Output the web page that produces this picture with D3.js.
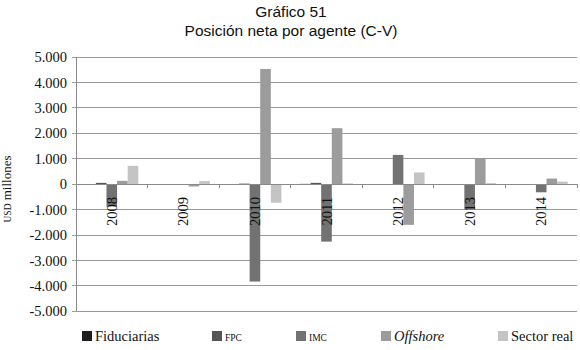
<!DOCTYPE html>
<html><head><meta charset="utf-8">
<script src="https://cdn.jsdelivr.net/npm/d3@7"></script>
<style>body{margin:0;background:#fff}svg{display:block}</style>
</head><body>
<svg id="c" width="580" height="350"></svg>
<script>
const years = ["2008","2009","2010","2011","2012","2013","2014"];
const seriesNames = ["Fiduciarias","FPC","IMC","Offshore","Sector real"];
const fiduciarias = [5, 0, 5, 10, 0, 0, 5];
const fpc = [50, 0, 20, 50, 0, 0, -20];
const imc = [-880, 0, -3830, -2260, 1150, -1000, -320];
const offshore = [130, -90, 4530, 2200, -1600, 1000, 220];
const sectorReal = [720, 120, -730, 30, 460, 40, 100];
const yTicks = [5000,4000,3000,2000,1000,0,-1000,-2000,-3000,-4000,-5000];
const colors = ["#1e1e1e","#555555","#727272","#9c9c9c","#c4c4c4"];

const values = [fiduciarias, fpc, imc, offshore, sectorReal];
const svg = d3.select("#c");
const L = 76, R = 577, T = 57, B = 311.3;
const x0 = d3.scaleBand().domain(years).range([L, R]).padding(0);
const bw = x0.bandwidth();
const x1 = d3.scaleBand().domain(seriesNames).range([bw*0.13, bw*0.87]).padding(0);
const y = d3.scaleLinear().domain([-5000, 5000]).range([B, T]);
const fmt = v => d3.format(",")(v).replace(/,/g, ".").replace("−","-");

// gridlines
svg.append("g").selectAll("line").data(yTicks).join("line")
  .attr("x1", L - 4).attr("x2", R).attr("y1", d => y(d)).attr("y2", d => y(d))
  .attr("stroke", "#9a9a9a").attr("stroke-width", 1).attr("shape-rendering","crispEdges");
// y axis line
svg.append("line").attr("x1", L).attr("x2", L).attr("y1", T).attr("y2", B)
  .attr("stroke", "#8a8a8a").attr("shape-rendering","crispEdges");
// y tick labels
svg.append("g").selectAll("text").data(yTicks).join("text")
  .attr("x", L - 9).attr("y", d => y(d)).attr("dy", "0.35em")
  .attr("text-anchor", "end").attr("font-family", "'Liberation Serif', serif")
  .attr("font-size", 14.5).attr("fill", "#111").text(d => fmt(d));

// bars
const g = svg.append("g");
seriesNames.forEach((s, si) => {
  g.selectAll(null).data(years).join("rect")
    .attr("x", d => x0(d) + x1(s))
    .attr("width", x1.bandwidth())
    .attr("y", (d, i) => y(Math.max(0, values[si][i])))
    .attr("height", (d, i) => Math.abs(y(values[si][i]) - y(0)))
    .attr("fill", colors[si]);
});

// zero line and category ticks
svg.append("line").attr("x1", L).attr("x2", R).attr("y1", y(0)).attr("y2", y(0))
  .attr("stroke", "#8a8a8a").attr("shape-rendering","crispEdges");
svg.append("g").selectAll("line").data(years).join("line")
  .attr("x1", d => x0(d) + bw).attr("x2", d => x0(d) + bw)
  .attr("y1", y(0)).attr("y2", y(0) + 4)
  .attr("stroke", "#8a8a8a").attr("shape-rendering","crispEdges");

// year labels
svg.append("g").selectAll("text").data(years).join("text")
  .attr("transform", d => `translate(${x0(d) + bw/2},197) rotate(-90)`)
  .attr("dy", "0.35em").attr("text-anchor", "end")
  .attr("font-family", "'Liberation Serif', serif").attr("font-size", 14.5)
  .attr("fill", "#111").text(d => d);

// title
const title = svg.append("text").attr("text-anchor", "middle")
  .attr("font-family", "'Liberation Sans', Arial, sans-serif").attr("font-size", 15.5).attr("fill", "#111");
title.append("tspan").attr("x", 291).attr("y", 17).text("Gráfico 51");
title.append("tspan").attr("x", 291).attr("y", 36).text("Posición neta por agente (C-V)");

// y axis label
const yl = svg.append("text").attr("transform", "translate(11,189) rotate(-90)")
  .attr("text-anchor", "middle").attr("font-family", "'Liberation Serif', serif").attr("fill", "#111");
yl.append("tspan").attr("font-size", 9.5).text("USD");
yl.append("tspan").attr("font-size", 13).text(" millones");

// legend
const legendX = [82, 212, 296, 381, 498];
const lg = svg.append("g");
seriesNames.forEach((s, i) => {
  lg.append("rect").attr("x", legendX[i]).attr("y", 331).attr("width", 10).attr("height", 10).attr("fill", colors[i]);
  const t = lg.append("text").attr("x", legendX[i] + 13).attr("y", 341)
    .attr("font-family", "'Liberation Serif', serif").attr("fill", "#111");
  if (s === "FPC" || s === "IMC") t.attr("font-size", 9.5).text(s);
  else if (s === "Offshore") t.attr("font-size", 14.5).attr("font-style", "italic").text(s);
  else t.attr("font-size", 14.5).text(s);
});
</script>
</body></html>
